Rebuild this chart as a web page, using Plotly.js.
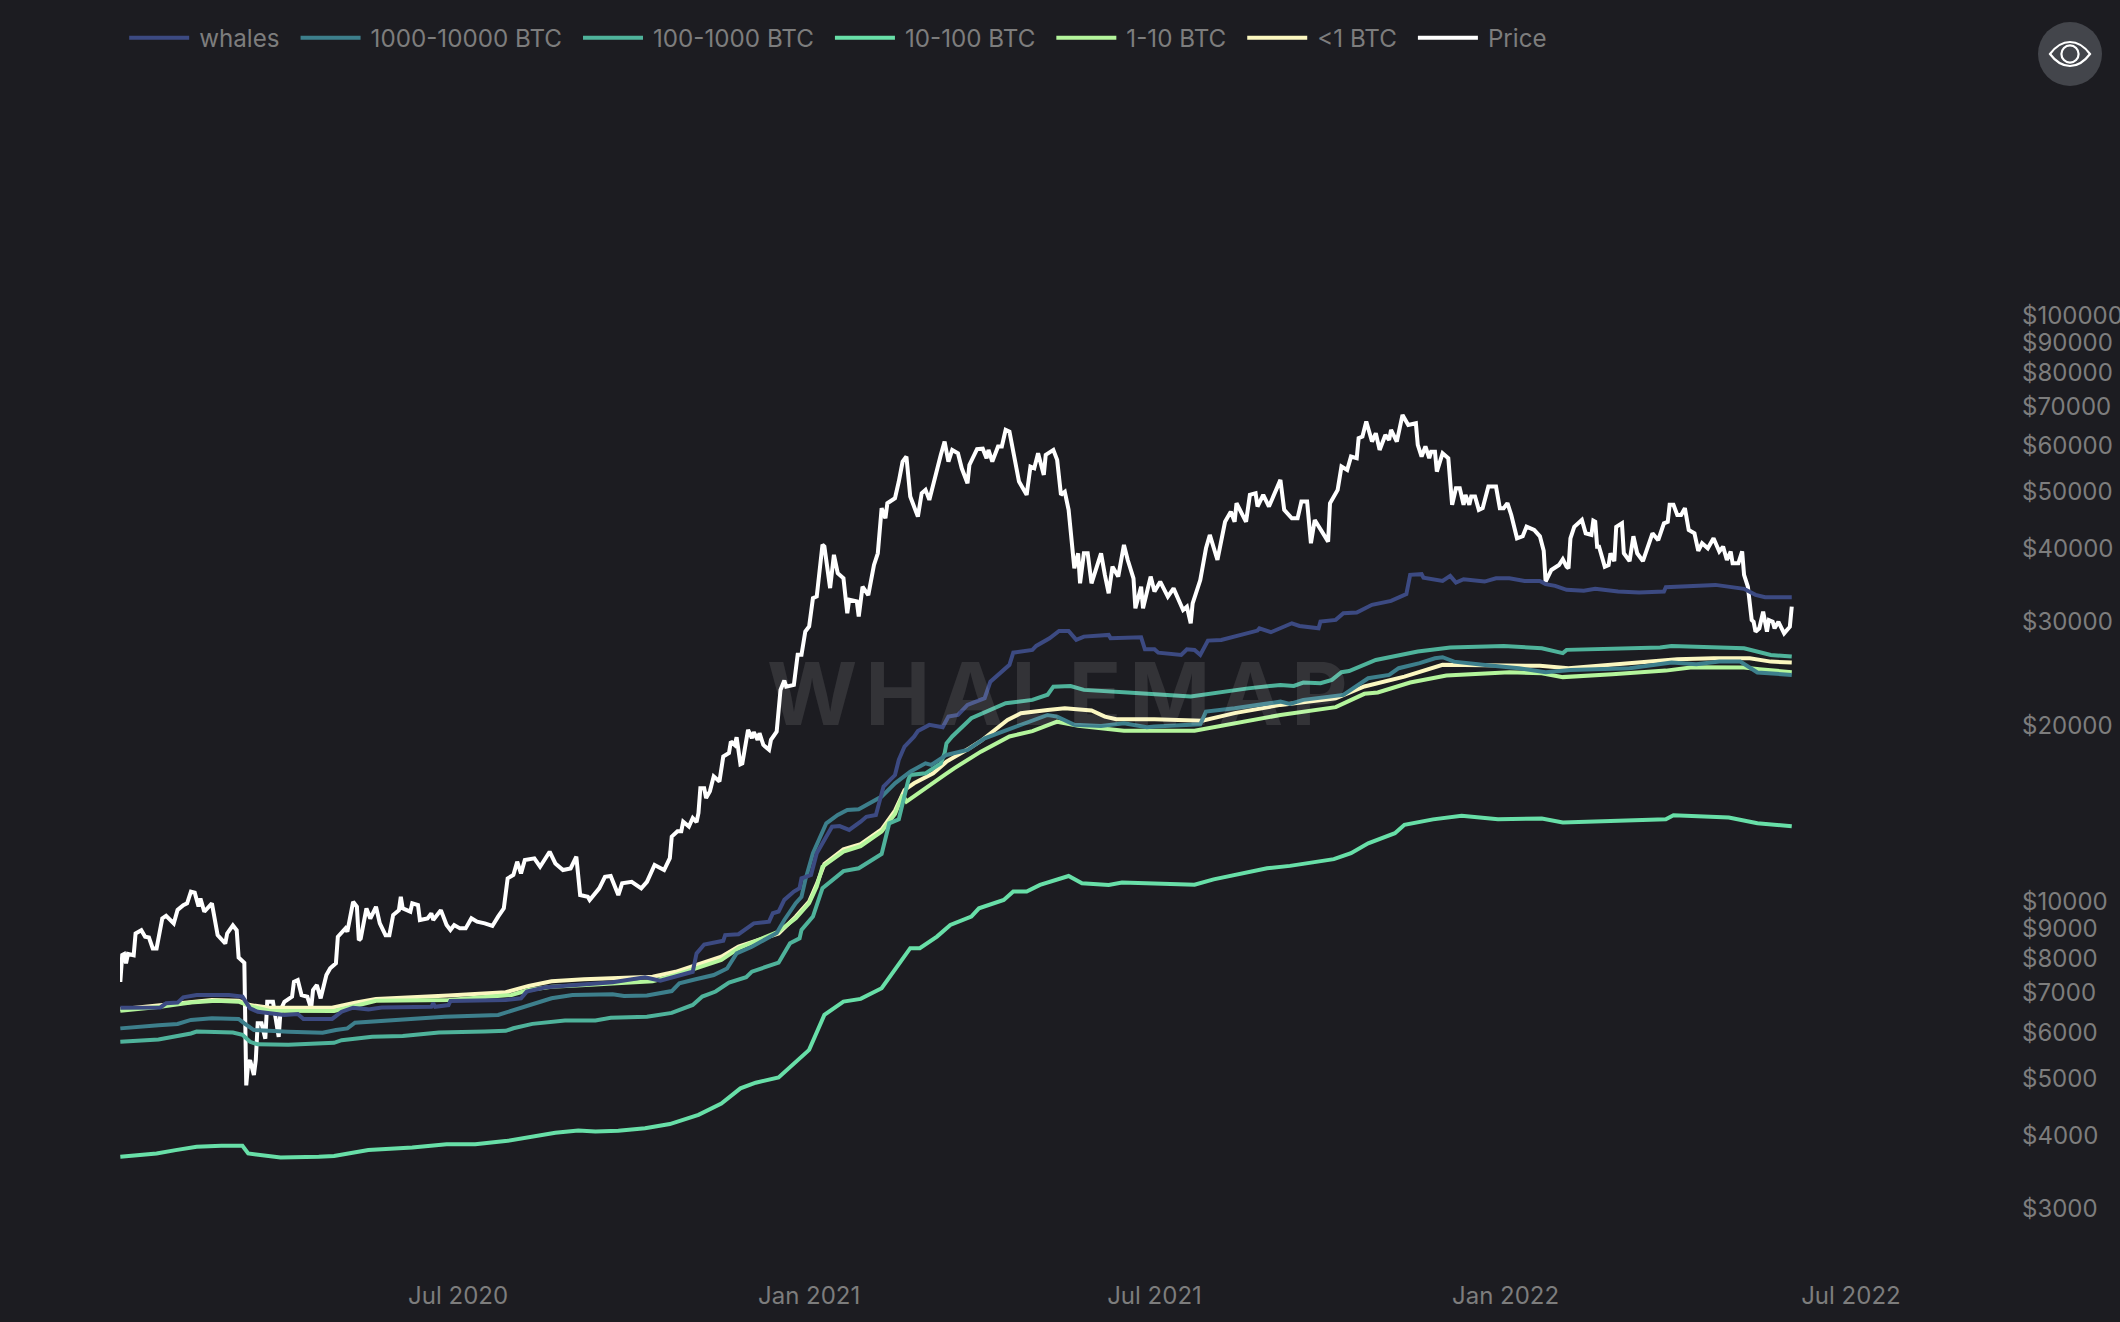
<!DOCTYPE html>
<html>
<head>
<meta charset="utf-8">
<script src="https://cdn.plot.ly/plotly-3.0.1.min.js"></script>
<style>
html,body{margin:0;padding:0;background:#1c1c21;width:2120px;height:1322px;overflow:hidden}
#chart{width:2120px;height:1322px}
.annotation-text{letter-spacing:8px}
#eye{position:absolute;left:2038px;top:22px;width:64px;height:64px}
</style>
</head>
<body>
<div id="chart"></div>
<svg id="eye" viewBox="0 0 64 64"><circle cx="32" cy="32" r="32" fill="#43454b"/><path d="M12 32 C18 24 24 20 32 20 C40 20 46 24 52 32 C46 40 40 44 32 44 C24 44 18 40 12 32 Z" fill="none" stroke="#fff" stroke-width="2.2"/><circle cx="32" cy="32" r="8.6" fill="none" stroke="#fff" stroke-width="2.2"/></svg>
<script>
const priceDates = ["2020-01-06","2020-01-07","2020-01-08","2020-01-09","2020-01-10","2020-01-13","2020-01-14","2020-01-17","2020-01-19","2020-01-21","2020-01-23","2020-01-25","2020-01-28","2020-01-30","2020-02-03","2020-02-05","2020-02-08","2020-02-10","2020-02-12","2020-02-14","2020-02-16","2020-02-17","2020-02-19","2020-02-23","2020-02-26","2020-03-01","2020-03-02","2020-03-05","2020-03-07","2020-03-08","2020-03-11","2020-03-12","2020-03-13","2020-03-14","2020-03-16","2020-03-17","2020-03-18","2020-03-20","2020-03-22","2020-03-23","2020-03-26","2020-03-29","2020-03-30","2020-04-01","2020-04-05","2020-04-06","2020-04-08","2020-04-10","2020-04-13","2020-04-15","2020-04-16","2020-04-18","2020-04-20","2020-04-23","2020-04-25","2020-04-28","2020-04-29","2020-05-03","2020-05-04","2020-05-07","2020-05-09","2020-05-10","2020-05-11","2020-05-14","2020-05-16","2020-05-19","2020-05-21","2020-05-24","2020-05-26","2020-05-28","2020-05-31","2020-06-01","2020-06-02","2020-06-06","2020-06-07","2020-06-10","2020-06-11","2020-06-15","2020-06-17","2020-06-18","2020-06-22","2020-06-25","2020-06-27","2020-06-29","2020-07-02","2020-07-05","2020-07-08","2020-07-11","2020-07-15","2020-07-19","2020-07-22","2020-07-25","2020-07-27","2020-07-30","2020-08-01","2020-08-03","2020-08-05","2020-08-10","2020-08-13","2020-08-18","2020-08-21","2020-08-25","2020-08-29","2020-09-01","2020-09-03","2020-09-07","2020-09-08","2020-09-13","2020-09-16","2020-09-19","2020-09-23","2020-09-25","2020-09-30","2020-10-05","2020-10-08","2020-10-12","2020-10-17","2020-10-20","2020-10-21","2020-10-23","2020-10-24","2020-10-26","2020-10-27","2020-10-30","2020-11-01","2020-11-03","2020-11-04","2020-11-05","2020-11-07","2020-11-08","2020-11-10","2020-11-12","2020-11-15","2020-11-17","2020-11-20","2020-11-21","2020-11-23","2020-11-24","2020-11-26","2020-11-27","2020-11-30","2020-12-02","2020-12-03","2020-12-05","2020-12-06","2020-12-08","2020-12-11","2020-12-12","2020-12-15","2020-12-17","2020-12-19","2020-12-20","2020-12-24","2020-12-26","2020-12-28","2020-12-30","2021-01-01","2021-01-03","2021-01-05","2021-01-08","2021-01-09","2021-01-12","2021-01-14","2021-01-16","2021-01-19","2021-01-21","2021-01-22","2021-01-26","2021-01-27","2021-01-29","2021-02-01","2021-02-04","2021-02-06","2021-02-08","2021-02-10","2021-02-11","2021-02-15","2021-02-17","2021-02-19","2021-02-21","2021-02-23","2021-02-27","2021-03-01","2021-03-03","2021-03-05","2021-03-11","2021-03-13","2021-03-15","2021-03-17","2021-03-20","2021-03-22","2021-03-25","2021-03-26","2021-03-30","2021-04-02","2021-04-04","2021-04-05","2021-04-07","2021-04-10","2021-04-12","2021-04-14","2021-04-16","2021-04-19","2021-04-21","2021-04-25","2021-04-27","2021-04-29","2021-05-01","2021-05-04","2021-05-05","2021-05-09","2021-05-11","2021-05-13","2021-05-15","2021-05-17","2021-05-19","2021-05-20","2021-05-22","2021-05-23","2021-05-25","2021-05-27","2021-05-29","2021-06-01","2021-06-03","2021-06-05","2021-06-07","2021-06-09","2021-06-12","2021-06-15","2021-06-17","2021-06-20","2021-06-21","2021-06-24","2021-06-25","2021-06-29","2021-07-01","2021-07-04","2021-07-08","2021-07-11","2021-07-16","2021-07-18","2021-07-20","2021-07-21","2021-07-25","2021-07-28","2021-07-30","2021-08-03","2021-08-07","2021-08-10","2021-08-12","2021-08-13","2021-08-18","2021-08-20","2021-08-23","2021-08-24","2021-08-27","2021-08-30","2021-09-05","2021-09-07","2021-09-11","2021-09-14","2021-09-16","2021-09-19","2021-09-21","2021-09-23","2021-09-27","2021-09-30","2021-10-01","2021-10-05","2021-10-07","2021-10-10","2021-10-12","2021-10-15","2021-10-16","2021-10-18","2021-10-20","2021-10-23","2021-10-25","2021-10-27","2021-10-30","2021-11-01","2021-11-02","2021-11-05","2021-11-08","2021-11-11","2021-11-15","2021-11-16","2021-11-18","2021-11-20","2021-11-22","2021-11-23","2021-11-25","2021-11-26","2021-11-29","2021-12-02","2021-12-04","2021-12-06","2021-12-08","2021-12-10","2021-12-11","2021-12-13","2021-12-14","2021-12-16","2021-12-18","2021-12-20","2021-12-23","2021-12-27","2021-12-29","2021-12-31","2022-01-02","2022-01-04","2022-01-07","2022-01-10","2022-01-12","2022-01-16","2022-01-19","2022-01-21","2022-01-22","2022-01-25","2022-01-29","2022-01-31","2022-02-02","2022-02-03","2022-02-04","2022-02-06","2022-02-10","2022-02-12","2022-02-15","2022-02-16","2022-02-17","2022-02-18","2022-02-19","2022-02-22","2022-02-24","2022-02-25","2022-02-27","2022-02-28","2022-03-03","2022-03-04","2022-03-07","2022-03-09","2022-03-11","2022-03-14","2022-03-19","2022-03-22","2022-03-25","2022-03-27","2022-03-28","2022-03-30","2022-04-01","2022-04-03","2022-04-05","2022-04-07","2022-04-10","2022-04-12","2022-04-14","2022-04-17","2022-04-20","2022-04-23","2022-04-25","2022-04-27","2022-04-29","2022-04-30","2022-05-03","2022-05-05","2022-05-06","2022-05-08","2022-05-10","2022-05-11","2022-05-12","2022-05-14","2022-05-16","2022-05-18","2022-05-19","2022-05-21","2022-05-22","2022-05-24","2022-05-27","2022-05-30","2022-05-31"];
const priceValues = [7250,8060,8090,7800,8090,8050,8770,8880,8660,8630,8270,8270,9300,9400,9120,9620,9800,9870,10330,10290,9750,10060,9550,9870,8710,8430,8770,9050,8880,7980,7816,4830,5264,5334,5032,5334,6165,6165,5803,6708,6708,5845,6493,6708,6842,7255,7306,6882,6842,6530,7025,7162,6798,7450,7648,7803,8657,8944,8829,9928,9736,8542,8600,9675,9298,9736,9122,8711,8711,9428,9609,10128,9680,9553,9868,9803,9246,9305,9489,9246,9611,9064,8887,9064,8946,8946,9305,9186,9125,9031,9366,9680,10886,11030,11622,11100,11697,11774,11396,12087,11545,11247,11321,11852,10195,10130,9998,10466,10949,10985,10195,10674,10740,10466,10740,11471,11247,11786,12825,12996,13100,13100,13600,13343,13795,13570,14065,15510,15510,14915,15317,16245,15928,17562,17800,18630,18380,18947,17040,17100,19494,18870,19320,18750,19245,18380,18030,18750,19365,22810,23666,23100,23260,26180,26180,28680,29260,32690,32910,40310,40045,34010,38760,36060,35360,30820,32490,32280,30420,34200,33100,37240,38990,46540,44730,47460,48400,51670,55880,56990,48720,45020,49360,50007,48080,57360,60450,55880,58500,57740,54430,51330,55150,58700,58780,56620,58500,55880,59300,59300,63280,62860,55880,51670,49040,54800,54430,57740,53030,57360,58500,56250,49040,49630,46230,40020,36760,38990,34650,38990,38990,34650,37490,38990,35810,33320,37000,35580,40285,37980,35345,31415,34200,31415,35580,33550,34880,32890,33980,31210,31620,29619,32040,35110,39760,41900,37980,44120,45920,44120,47460,44120,49040,49360,46840,49040,46840,52010,46230,44730,44730,47770,47770,40550,44440,42175,40820,47460,50007,54800,54080,56990,56620,61250,61640,65390,60450,62450,58500,62040,60840,63280,60450,67110,64530,64955,59660,56990,59300,56620,58100,58100,53740,57740,56620,47160,50330,50330,47160,49040,47160,48720,48720,46230,46540,50670,50670,46540,46540,47460,45320,41350,41680,43290,42720,41680,39380,34880,36520,37240,38100,37000,36760,41350,43250,44440,42175,41900,44300,44120,40020,40020,37000,37240,38990,37800,43250,43863,38990,37800,41680,38990,37800,42175,41050,43863,44120,47160,47160,45320,45320,46540,42720,42175,39350,40550,39760,41350,39270,40020,37980,39270,37490,37490,39270,35810,34200,30000,29800,28670,29045,31000,28670,30000,29800,29045,29800,28480,29230,31620];

const whalesDates = ["2020-01-06","2020-01-27","2020-01-30","2020-02-05","2020-02-08","2020-02-15","2020-03-03","2020-03-10","2020-03-14","2020-03-18","2020-04-01","2020-04-08","2020-04-11","2020-04-26","2020-05-01","2020-05-07","2020-05-15","2020-05-22","2020-06-17","2020-06-18","2020-06-19","2020-06-26","2020-06-27","2020-07-26","2020-08-03","2020-08-06","2020-08-16","2020-09-10","2020-09-20","2020-10-07","2020-10-15","2020-11-01","2020-11-03","2020-11-07","2020-11-17","2020-11-18","2020-11-25","2020-12-03","2020-12-11","2020-12-13","2020-12-16","2020-12-19","2020-12-24","2020-12-27","2020-12-28","2021-01-02","2021-01-05","2021-01-08","2021-01-13","2021-01-17","2021-01-22","2021-01-28","2021-01-31","2021-02-05","2021-02-09","2021-02-15","2021-02-17","2021-02-20","2021-02-25","2021-02-27","2021-03-05","2021-03-12","2021-03-15","2021-03-20","2021-03-25","2021-04-03","2021-04-06","2021-04-16","2021-04-18","2021-04-28","2021-04-30","2021-05-07","2021-05-12","2021-05-17","2021-05-21","2021-05-25","2021-06-07","2021-06-08","2021-06-24","2021-06-26","2021-07-01","2021-07-03","2021-07-15","2021-07-18","2021-07-22","2021-07-25","2021-07-29","2021-08-05","2021-08-14","2021-08-24","2021-08-25","2021-08-31","2021-09-11","2021-09-15","2021-09-25","2021-09-26","2021-10-04","2021-10-08","2021-10-15","2021-10-23","2021-11-02","2021-11-10","2021-11-12","2021-11-18","2021-11-19","2021-11-29","2021-12-03","2021-12-06","2021-12-10","2021-12-21","2021-12-27","2022-01-03","2022-01-11","2022-01-19","2022-01-22","2022-01-27","2022-02-02","2022-02-11","2022-02-17","2022-03-01","2022-03-12","2022-03-25","2022-03-26","2022-04-11","2022-04-21","2022-05-06","2022-05-12","2022-05-17","2022-05-31"];
const whalesValues = [6552,6560,6667,6685,6826,6890,6890,6843,6533,6450,6368,6392,6270,6270,6450,6552,6510,6560,6575,6667,6575,6620,6728,6752,6800,6980,7099,7208,7239,7381,7283,7544,8110,8397,8520,8715,8744,9123,9186,9494,9557,10005,10335,10474,10888,11030,12016,12492,13333,13367,13165,13596,13864,13961,15608,16329,17336,18264,18985,19404,19884,19697,20540,20670,21505,22077,23557,25164,26398,26684,27103,27934,28749,28749,27755,28116,28304,27934,28041,26755,26755,26398,26167,26755,26684,26167,27677,27755,28190,28788,29051,28603,29626,29317,29045,29818,30024,30821,30907,31852,32346,33209,35827,35921,35432,34984,35683,34762,35214,34894,35358,35358,34984,34984,34536,34306,33776,33649,33912,33558,33414,33558,34125,34355,34442,33912,33122,32818,32818];

const tier1000Dates = ["2020-01-06","2020-01-15","2020-01-26","2020-02-05","2020-02-12","2020-02-23","2020-03-08","2020-03-11","2020-03-16","2020-04-03","2020-04-21","2020-04-28","2020-05-04","2020-05-08","2020-05-22","2020-06-02","2020-06-24","2020-07-22","2020-08-05","2020-08-19","2020-08-30","2020-09-20","2020-09-26","2020-10-08","2020-10-21","2020-10-25","2020-11-02","2020-11-12","2020-11-19","2020-11-24","2020-12-02","2020-12-15","2020-12-19","2020-12-25","2020-12-28","2020-12-30","2021-01-03","2021-01-10","2021-01-16","2021-01-21","2021-01-27","2021-02-08","2021-02-15","2021-02-23","2021-03-03","2021-03-06","2021-03-14","2021-03-25","2021-04-03","2021-04-13","2021-04-22","2021-05-06","2021-05-11","2021-05-20","2021-06-03","2021-06-15","2021-06-27","2021-07-01","2021-07-25","2021-07-28","2021-08-12","2021-09-05","2021-09-10","2021-09-17","2021-10-08","2021-10-21","2021-11-01","2021-11-06","2021-11-17","2021-11-25","2021-11-29","2021-12-05","2021-12-20","2022-01-08","2022-01-22","2022-02-04","2022-03-07","2022-03-29","2022-04-11","2022-04-23","2022-05-04","2022-05-13","2022-05-31"];
const tier1000Values = [6042,6083,6118,6146,6246,6286,6270,6163,6003,5964,5941,6003,6042,6179,6220,6246,6324,6368,6575,6800,6890,6908,6862,6874,6995,7211,7320,7449,7644,8110,8322,8787,9246,9876,10127,10819,12016,13512,13961,14242,14276,15005,15807,16547,17098,16990,17670,18020,18865,19404,19884,20670,20540,19884,19804,20011,19697,19752,19933,20950,21222,21781,21580,21934,22363,23879,24191,24837,25330,25827,25934,25486,25170,24837,24455,24672,24837,25404,25231,25486,25486,24422,24191];

const tier100Dates = ["2020-01-06","2020-01-14","2020-01-26","2020-02-12","2020-02-15","2020-03-05","2020-03-10","2020-03-14","2020-03-18","2020-04-03","2020-04-27","2020-05-01","2020-05-17","2020-06-02","2020-06-21","2020-07-15","2020-07-26","2020-07-30","2020-08-09","2020-08-26","2020-09-11","2020-09-19","2020-10-08","2020-10-21","2020-11-01","2020-11-06","2020-11-13","2020-11-20","2020-11-29","2020-12-02","2020-12-16","2020-12-22","2020-12-27","2020-12-28","2021-01-03","2021-01-08","2021-01-12","2021-01-19","2021-01-27","2021-01-31","2021-02-08","2021-02-12","2021-02-17","2021-02-22","2021-02-23","2021-03-03","2021-03-11","2021-03-13","2021-03-14","2021-03-17","2021-03-27","2021-04-14","2021-04-28","2021-05-06","2021-05-09","2021-05-18","2021-05-25","2021-06-17","2021-07-20","2021-08-19","2021-09-05","2021-09-12","2021-09-17","2021-09-26","2021-10-02","2021-10-07","2021-10-11","2021-10-25","2021-11-06","2021-11-16","2021-12-03","2021-12-31","2022-01-20","2022-01-31","2022-02-02","2022-02-26","2022-03-01","2022-03-23","2022-03-29","2022-04-20","2022-05-06","2022-05-20","2022-05-31"];
const tier100Values = [5732,5750,5785,5923,5966,5943,5890,5732,5675,5668,5708,5769,5844,5866,5943,5966,5985,6045,6150,6230,6230,6300,6324,6420,6624,6844,6982,7230,7384,7549,7820,8439,8603,8892,9370,10474,10751,11199,11325,11550,11975,13512,13725,16019,16336,16442,17098,17785,18497,19000,20404,21644,21934,22378,23102,23161,22810,22570,22219,22946,23258,23161,23472,23419,23727,24455,24561,25655,26164,26518,26937,27097,26863,26353,26690,26793,26863,26937,27097,26970,26863,26164,26000];

const tier10Dates = ["2020-01-06","2020-01-14","2020-01-25","2020-02-04","2020-02-15","2020-02-28","2020-03-10","2020-03-13","2020-03-30","2020-04-19","2020-04-27","2020-05-15","2020-06-07","2020-06-25","2020-07-10","2020-07-27","2020-08-21","2020-09-02","2020-09-11","2020-09-23","2020-10-07","2020-10-20","2020-11-04","2020-11-16","2020-11-26","2020-12-04","2020-12-16","2021-01-01","2021-01-09","2021-01-19","2021-01-28","2021-02-08","2021-02-23","2021-02-28","2021-03-09","2021-03-16","2021-03-27","2021-03-31","2021-04-13","2021-04-18","2021-04-25","2021-05-02","2021-05-17","2021-05-24","2021-06-07","2021-06-14","2021-07-22","2021-08-01","2021-08-29","2021-09-10","2021-10-03","2021-10-12","2021-10-21","2021-11-04","2021-11-09","2021-11-24","2021-12-09","2021-12-28","2022-01-20","2022-01-31","2022-03-26","2022-03-30","2022-04-28","2022-05-13","2022-05-31"];
const tier10Values = [3650,3664,3698,3747,3796,3811,3811,3698,3639,3650,3660,3747,3787,3834,3834,3886,4012,4046,4031,4041,4084,4150,4304,4496,4775,4882,4982,5553,6370,6711,6783,7075,8276,8276,8663,9069,9370,9680,10000,10335,10335,10611,10988,10680,10611,10709,10621,10845,11329,11433,11739,12018,12494,12996,13431,13723,13916,13727,13768,13555,13727,13941,13822,13518,13358];

const tier1Dates = ["2020-01-06","2020-01-27","2020-02-12","2020-02-25","2020-03-08","2020-03-14","2020-03-24","2020-04-27","2020-05-09","2020-05-19","2020-06-26","2020-07-29","2020-08-07","2020-08-19","2020-09-06","2020-10-11","2020-10-23","2020-11-16","2020-11-25","2020-12-16","2020-12-25","2021-01-01","2021-01-05","2021-01-08","2021-01-19","2021-01-28","2021-02-08","2021-02-15","2021-02-19","2021-02-21","2021-03-13","2021-03-18","2021-04-01","2021-04-16","2021-04-28","2021-05-11","2021-05-22","2021-06-15","2021-07-22","2021-08-12","2021-09-05","2021-10-04","2021-10-19","2021-10-26","2021-11-12","2021-12-01","2021-12-09","2022-01-03","2022-01-20","2022-01-31","2022-02-26","2022-03-26","2022-04-09","2022-05-06","2022-05-14","2022-05-31"];
const tier1Values = [6476,6575,6685,6735,6710,6593,6476,6467,6611,6735,6752,6890,7024,7114,7161,7270,7451,7900,8272,8833,9306,9876,10541,11400,12091,12355,13079,14014,15103,14714,16336,16767,17900,19000,19404,20135,19804,19436,19436,20011,20670,21314,22461,22584,23476,24126,24191,24455,24352,23982,24261,24602,24931,24898,24738,24455];

const tier0Dates = ["2020-01-06","2020-01-27","2020-02-12","2020-02-23","2020-03-08","2020-03-14","2020-03-24","2020-04-26","2020-05-08","2020-05-19","2020-06-26","2020-07-26","2020-08-07","2020-08-19","2020-09-05","2020-10-11","2020-10-23","2020-11-16","2020-11-25","2020-12-16","2020-12-25","2021-01-01","2021-01-05","2021-01-09","2021-01-19","2021-01-28","2021-02-08","2021-02-15","2021-02-20","2021-02-25","2021-03-07","2021-03-14","2021-03-26","2021-04-01","2021-04-15","2021-04-22","2021-05-06","2021-05-15","2021-05-29","2021-06-05","2021-06-11","2021-07-01","2021-07-26","2021-08-12","2021-09-05","2021-09-29","2021-10-04","2021-10-19","2021-11-09","2021-11-29","2021-12-31","2022-01-19","2022-02-03","2022-02-26","2022-03-15","2022-04-01","2022-04-20","2022-05-09","2022-05-20","2022-05-31"];
const tier0Values = [6510,6620,6710,6752,6735,6620,6552,6552,6685,6781,6874,6961,7137,7270,7326,7400,7544,8005,8325,8772,9370,9936,10644,11520,12201,12455,13195,14200,15400,15807,16442,17213,18137,18667,20268,20820,21086,21222,21034,20540,20323,20323,20216,20820,21505,21934,22071,23119,24031,25170,25067,25067,24837,25170,25404,25724,25827,25827,25486,25404];

const seriesNames = ["whales","1000-10000 BTC","100-1000 BTC","10-100 BTC","1-10 BTC","<1 BTC","Price"];
const seriesColors = ["#3c4a82","#3d7f8c","#4fb39b","#68dfa8","#b4f59c","#fbf7c0","#ffffff"];
const yTickValues = [3000,4000,5000,6000,7000,8000,9000,10000,20000,30000,40000,50000,60000,70000,80000,90000,100000];
const yTickLabels = ["$3000","$4000","$5000","$6000","$7000","$8000","$9000","$10000","$20000","$30000","$40000","$50000","$60000","$70000","$80000","$90000","$100000"];
const xTickValues = ["2020-07-01","2021-01-01","2021-07-01","2022-01-01","2022-07-01"];
const xTickLabels = ["Jul 2020","Jan 2021","Jul 2021","Jan 2022","Jul 2022"];

const allDates = [whalesDates,tier1000Dates,tier100Dates,tier10Dates,tier1Dates,tier0Dates,priceDates];
const allValues = [whalesValues,tier1000Values,tier100Values,tier10Values,tier1Values,tier0Values,priceValues];

const traces = seriesNames.map((n,i)=>({
  type:"scatter",mode:"lines",name:n,x:allDates[i],y:allValues[i],
  line:{color:seriesColors[i],width:4,shape:"linear"},hoverinfo:"x+y+name"
})).reverse();

const axisFont = {family:"Inter, sans-serif",size:24,color:"#7d7d7d"};
const layout = {
  width:2120,height:1322,
  paper_bgcolor:"#1c1c21",plot_bgcolor:"#1c1c21",
  margin:{l:120,r:105,t:10,b:47,pad:0},
  showlegend:true,
  legend:{orientation:"h",traceorder:"reversed",x:0.0022,xanchor:"left",y:0.9957,yanchor:"top",
    itemwidth:60,font:{family:"Inter, sans-serif",size:24.2,color:"#7d7d7d"},bgcolor:"rgba(0,0,0,0)"},
  xaxis:{type:"date",range:["2020-01-05 20:00","2022-09-25"],tickvals:xTickValues,ticktext:xTickLabels,
    showgrid:false,zeroline:false,showline:false,ticks:"",tickfont:axisFont,automargin:false,ticklabelstandoff:4},
  yaxis:{type:"log",side:"right",range:[3.3608,5.5170],tickvals:yTickValues,ticktext:yTickLabels,
    showgrid:false,zeroline:false,showline:false,ticks:"",tickfont:axisFont,automargin:false,ticklabelstandoff:6,ticklabelshift:2},
  annotations:[{xref:"paper",yref:"paper",x:0.4966,y:0.4593,xanchor:"center",yanchor:"middle",showarrow:false,
    text:"WHALEMAP",font:{family:"Inter, sans-serif",size:87,weight:700,color:"rgba(255,255,255,0.1)"}}]
};
Plotly.newPlot("chart",traces,layout,{displayModeBar:false,responsive:false}).then(gd=>{
  // widen the gaps between legend entries and between each key and its label
  const legendItems=[...gd.querySelectorAll(".legend .traces")];
  const xOf=el=>parseFloat((el.getAttribute("transform")||"").split("(")[1]);
  legendItems.sort((a,b)=>xOf(a)-xOf(b)).forEach((el,i)=>{
    const parts=el.getAttribute("transform").match(/translate\(([^,]+),\s*([^)]+)\)/);
    el.setAttribute("transform",`translate(${parseFloat(parts[1])+i*16},${parts[2]})`);
    const t=el.querySelector(".legendtext");
    if(t) t.setAttribute("x",parseFloat(t.getAttribute("x"))+5);
  });
  const sb=gd.querySelector(".legend .scrollbox");
  if(sb) sb.removeAttribute("clip-path");
  const lg=gd.querySelector(".legend");
  if(lg){lg.removeAttribute("clip-path");lg.style.clipPath="none";}
});
</script>
</body>
</html>
